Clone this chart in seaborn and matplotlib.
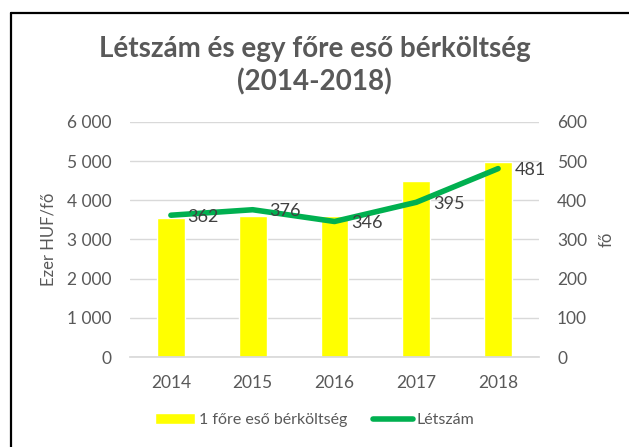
import numpy as np
import pandas as pd
import matplotlib
matplotlib.use("Agg")
import matplotlib.pyplot as plt
import seaborn as sns
from matplotlib.patches import Patch
from matplotlib.lines import Line2D

# adatok
evek = ["2014", "2015", "2016", "2017", "2018"]
berkoltseg = [3560, 3590, 3610, 4500, 4980]
letszam = [362, 376, 346, 395, 481]

df = pd.DataFrame({"Év": evek, "Bérköltség": berkoltseg, "Létszám": letszam})

sns.set_theme(style="white")
plt.rcParams["font.family"] = ["Lato", "DejaVu Sans"]

szurke = "#595959"
zold = "#00B050"
sarga = "#FFFF00"

W, H = 629, 447
fig = plt.figure(figsize=(W / 100, H / 100), dpi=100)
ax = fig.add_axes([130 / W, 1 - 357 / H, 409 / W, 235 / H])

sns.barplot(data=df, x="Év", y="Bérköltség", color=sarga, width=0.34,
            saturation=1, ax=ax, zorder=2)
ax.set_xlim(-0.5, 4.5)
ax.set_ylim(0, 6000)
ax.set_yticks(range(0, 6001, 1000))
ax.set_yticklabels([f"{v:,}".replace(",", " ") for v in range(0, 6001, 1000)])
ax.grid(axis="y", color="#D9D9D9", linewidth=1, zorder=0)
ax.set_axisbelow(True)
for s in ["top", "right", "left"]:
    ax.spines[s].set_visible(False)
ax.spines["bottom"].set_color("#D9D9D9")
ax.tick_params(axis="y", length=0, colors=szurke, labelsize=12.5, pad=13)
ax.tick_params(axis="x", length=0, colors=szurke, labelsize=12.5, pad=13)
ax.set_xlabel("")
ax.set_ylabel("Ezer HUF/fő", color=szurke, fontsize=12, labelpad=8)

ax2 = ax.twinx()
sns.lineplot(data=df, x="Év", y="Létszám", color=zold, linewidth=4, ax=ax2,
             solid_capstyle="round", solid_joinstyle="round")
ax2.set_xlim(-0.5, 4.5)
ax2.set_ylim(0, 600)
ax2.set_yticks(range(0, 601, 100))
for s in ["top", "right", "left", "bottom"]:
    ax2.spines[s].set_visible(False)
ax2.tick_params(axis="y", length=0, colors=szurke, labelsize=12.5, pad=13)
ax2.set_ylabel("fő", color=szurke, fontsize=12, labelpad=8)

for i, v in enumerate(letszam):
    ax2.annotate(str(v), (i, v), xytext=(12, -1), textcoords="offset points",
                 ha="left", va="center", fontsize=13, color="#404040")

fig.text(0.5, 1 - 49 / H, "Létszám és egy főre eső bérköltség", ha="center",
         va="center", fontsize=20, fontweight="bold", color=szurke)
fig.text(0.5, 1 - 82 / H, "(2014-2018)", ha="center", va="center",
         fontsize=20, fontweight="bold", color=szurke)

kezek = [Patch(facecolor=sarga, label="1 főre eső bérköltség"),
         Line2D([0], [0], color=zold, linewidth=4, label="Létszám")]
fig.legend(handles=kezek, loc="center", bbox_to_anchor=(0.5, 1 - 420 / H), ncol=2,
           frameon=False, fontsize=11.5, labelcolor=szurke, handlelength=2.5,
           handletextpad=0.25, columnspacing=1.6)

# keret csak fent és balra
fig.add_artist(Line2D([11 / W, 1], [1 - 13 / H, 1 - 13 / H], color="black",
                      linewidth=1.6, transform=fig.transFigure))
fig.add_artist(Line2D([11 / W, 11 / W], [0, 1 - 13 / H], color="black",
                      linewidth=1.6, transform=fig.transFigure))

fig.savefig("out.png", dpi=100)
